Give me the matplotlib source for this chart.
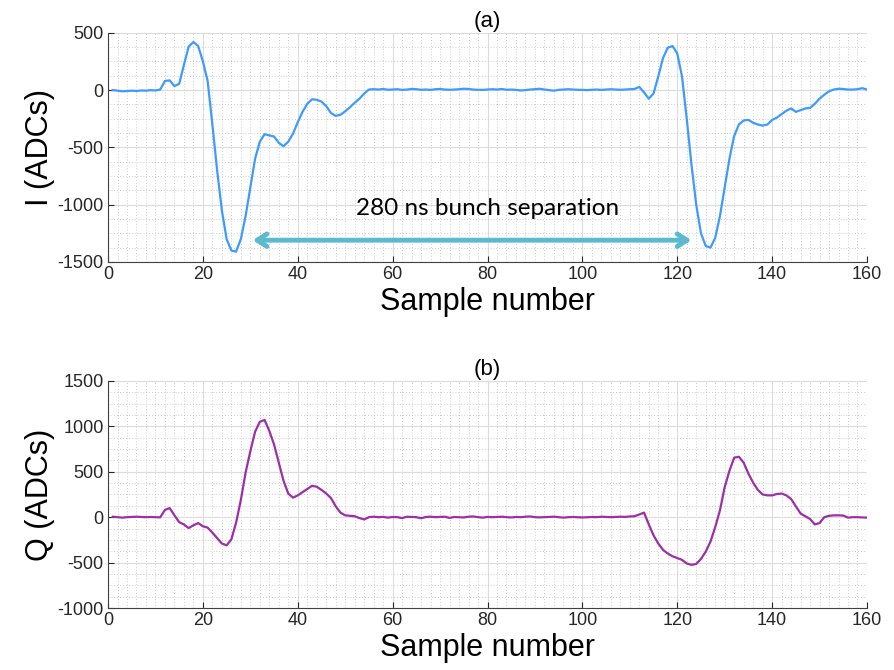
import numpy as np
import matplotlib
matplotlib.use("Agg")
import matplotlib.pyplot as plt
from matplotlib.ticker import MultipleLocator

# I channel, samples 1..160
i_adc = [
    0, -5, -10, -8, -5, -8, -3, -5, 0, -3,
    5, 80, 85, 35, 55, 220, 380, 420, 385, 250,
    80, -300, -700, -1050, -1300, -1400, -1410, -1300, -1100, -850,
    -600, -450, -385, -395, -405, -460, -490, -450, -380, -280,
    -190, -120, -80, -85, -100, -140, -200, -225, -215, -185,
    -150, -110, -75, -30, 5, 8, 5, 10, 3, 5,
    8, 2, 5, 10, 8, 3, 5, 2, 8, 10,
    5, 3, 5, 8, 12, 10, 5, 3, 2, 5,
    8, 5, 10, 3, 5, 2, -3, 0, 5, 8,
    12, 5, 0, -5, 2, 5, 8, 5, 3, 2,
    0, 3, 5, 2, 5, 8, 5, 3, 5, 8,
    10, 28, -20, -75, -30, 120, 280, 370, 385, 320,
    120, -250, -650, -1000, -1250, -1360, -1375, -1290, -1100, -850,
    -600, -400, -300, -265, -260, -285, -300, -310, -300, -260,
    -240, -210, -180, -160, -190, -175, -160, -155, -120, -75,
    -40, -10, 5, 12, 10, 5, 5, 8, 17, 5,
]

# Q channel, samples 1..160
q_adc = [
    5, 0, -5, 0, 2, 5, 3, 0, 2, 0,
    -2, 80, 100, 20, -55, -80, -120, -90, -65, -100,
    -115, -170, -230, -290, -310, -245, -60, 190, 490, 725,
    940, 1050, 1070, 950, 800, 600, 400, 260, 215, 240,
    275, 310, 345, 335, 300, 260, 210, 120, 50, 20,
    15, 10, -10, -25, 0, 5, 0, 3, -5, 2,
    0, -10, 5, 3, 0, -12, 2, 5, 0, 3,
    5, -8, 2, 0, -3, 5, 8, 0, -5, 3,
    0, 2, 5, 0, -3, 2, 0, 5, 8, 0,
    -2, 0, 3, 5, 0, -5, 0, 2, 0, -3,
    0, 2, 0, 5, 3, 0, 2, 5, 3, 8,
    10, 30, 50, -80, -200, -290, -360, -400, -430, -450,
    -470, -510, -525, -515, -460, -380, -270, -110, 75, 330,
    510, 655, 665, 600, 480, 380, 300, 250, 240, 240,
    255, 260, 240, 200, 120, 40, 10, -20, -80, -65,
    0, 15, 20, 20, 18, -5, 0, 0, -3, -5,
]

x_ticks = [0, 20, 40, 60, 80, 100, 120, 140, 160]
i_ticks = [-1500, -1000, -500, 0, 500]
q_ticks = [-1000, -500, 0, 500, 1000, 1500]

# arrow between the two bunches
arrow_start = 30.5
arrow_end = 123
arrow_level = -1310
label_text = "280 ns bunch separation"

plt.rcParams['font.family'] = ['Liberation Sans', 'DejaVu Sans']
plt.rcParams['axes.unicode_minus'] = False

fig = plt.figure(figsize=(8.95, 6.7), dpi=100)
ax1 = fig.add_axes([0.1207, 0.609, 0.848, 0.342])
ax2 = fig.add_axes([0.1207, 0.0925, 0.848, 0.339])

samples = np.arange(1, len(i_adc) + 1)


def style_axes(ax, yticks, ylabel, title):
    ax.set_xlim(0, 160)
    ax.set_ylim(yticks[0], yticks[-1])
    ax.set_xticks(x_ticks)
    ax.set_yticks(yticks)
    ax.xaxis.set_minor_locator(MultipleLocator(2))
    ax.yaxis.set_minor_locator(MultipleLocator(125))
    ax.grid(which='major', color='#dcdcdc', linewidth=0.8)
    ax.grid(which='minor', color='#bdbdbd', linestyle=(0, (1, 2.5)), linewidth=0.6)
    ax.set_axisbelow(True)
    for side in ('top', 'right'):
        ax.spines[side].set_visible(False)
    for side in ('left', 'bottom'):
        ax.spines[side].set_color('#404040')
        ax.spines[side].set_linewidth(0.8)
    ax.tick_params(which='major', direction='in', length=4, labelsize=13,
                   colors='#262626', width=0.8, top=False, right=False, pad=3)
    ax.tick_params(which='minor', length=0)
    ax.set_xlabel("Sample number", fontsize=22, labelpad=3)
    ax.set_ylabel(ylabel, fontsize=22, labelpad=2)
    ax.set_title(title, fontsize=16, pad=4)


ax1.plot(samples, i_adc, color='#3d9bff', linewidth=1.6)
style_axes(ax1, i_ticks, "I (ADCs)", "(a)")
ax1.annotate("", xy=(arrow_end, arrow_level), xytext=(arrow_start, arrow_level),
             arrowprops=dict(arrowstyle='<->, head_length=0.7, head_width=0.45',
                             color='#5bbad0', lw=3.5, shrinkA=0, shrinkB=0))
ax1.text(80, arrow_level + 185, label_text, family=['Lato', 'DejaVu Sans'],
         fontsize=17.5, ha='center', va='bottom', color='black')

ax2.plot(samples, q_adc, color='#9c2fa8', linewidth=1.6)
style_axes(ax2, q_ticks, "Q (ADCs)", "(b)")

fig.savefig("out.png", dpi=100, facecolor='white')
